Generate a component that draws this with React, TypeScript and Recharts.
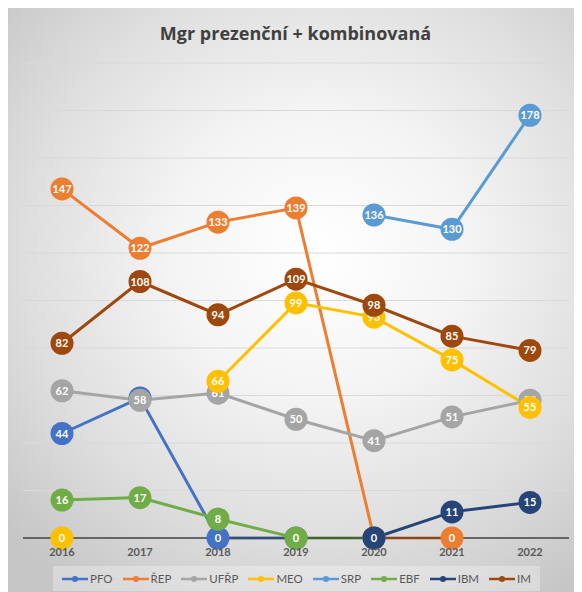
import React from 'react';
import { LineChart, Line, XAxis, YAxis, CartesianGrid } from 'recharts';

const years = ['2016', '2017', '2018', '2019', '2020', '2021', '2022'];
const pfo = [44, 59, 0, 0, null, null, null];
const rep = [147, 122, 133, 139, 0, 0, null];
const ufrp = [62, 58, 61, 50, 41, 51, 58];
const meo = [0, null, 66, 99, 93, 75, 55];
const srp = [null, null, null, null, 136, 130, 178];
const ebf = [16, 17, 8, 0, 0, null, null];
const ibm = [null, null, null, null, 0, 11, 15];
const im = [82, 108, 94, 109, 98, 85, 79];
const yTicks = [0, 20, 40, 60, 80, 100, 120, 140, 160, 180, 200];

const series = [
    { key: 'PFO', values: pfo, color: '#4472C4' },
    { key: 'ŘEP', values: rep, color: '#ED7D31' },
    { key: 'UFŘP', values: ufrp, color: '#A5A5A5' },
    { key: 'MEO', values: meo, color: '#FFC000' },
    { key: 'SRP', values: srp, color: '#5B9BD5' },
    { key: 'EBF', values: ebf, color: '#70AD47' },
    { key: 'IBM', values: ibm, color: '#264478' },
    { key: 'IM', values: im, color: '#9E480E' },
];

const data = years.map((year, i) => {
    const row: any = { year };
    series.forEach((s) => {
        row[s.key] = s.values[i];
    });
    return row;
});

const font = 'Lato, "Open Sans", sans-serif';

const makeDot = (color: string) => (props: any) => {
    const { cx, cy, value, index } = props;
    if (value === null || value === undefined || cy === null || cy === undefined || isNaN(cy)) {
        return <g key={`d-${index}`} />;
    }
    return (
        <g key={`d-${index}`}>
            <circle cx={cx} cy={cy} r={11.5} fill={color} />
            <text
                x={cx}
                y={cy}
                dy={4}
                textAnchor="middle"
                fill="#ffffff"
                fontSize={11}
                fontWeight={700}
                fontFamily={font}
            >
                {value}
            </text>
        </g>
    );
};

const ChartLegend = () => (
    <div
        style={{
            position: 'absolute',
            left: 45,
            top: 558,
            width: 487,
            height: 25,
            display: 'flex',
            alignItems: 'center',
            justifyContent: 'center',
            gap: 10,
            background: 'rgba(255,255,255,0.3)',
            fontFamily: font,
            fontSize: 11.5,
            color: '#595959',
        }}
    >
        {series.map((s) => (
            <div key={s.key} style={{ display: 'flex', alignItems: 'center' }}>
                <svg width={26} height={8} style={{ marginRight: 2 }}>
                    <line x1={0} y1={4} x2={26} y2={4} stroke={s.color} strokeWidth={2.5} />
                    <circle cx={13} cy={4} r={3} fill={s.color} />
                </svg>
                <span>{s.key}</span>
            </div>
        ))}
    </div>
);

export default function App() {
    return (
        <div
            style={{
                position: 'relative',
                width: 567,
                height: 584,
                background:
                    'radial-gradient(ellipse 75% 70% at 55% 42%, #ffffff 0%, #f4f4f4 35%, #dedede 70%, #c6c6c6 100%)',
            }}
        >
            <div
                style={{
                    position: 'absolute',
                    top: 13,
                    left: 4,
                    width: '100%',
                    textAlign: 'center',
                    fontFamily: '"Open Sans", sans-serif',
                    fontWeight: 700,
                    fontSize: 18,
                    color: '#404040',
                }}
            >
                Mgr prezenční + kombinovaná
            </div>
            <LineChart
                width={567}
                height={584}
                data={data}
                margin={{ top: 55, right: 6, left: 15, bottom: 34 }}
                style={{ position: 'absolute', top: 0, left: 0 }}
            >
                <CartesianGrid horizontal vertical={false} stroke="#d9d9d9" />
                <XAxis
                    dataKey="year"
                    height={20}
                    padding={{ left: 39, right: 39 }}
                    tickLine={false}
                    axisLine={{ stroke: '#404040', strokeWidth: 1.5 }}
                    tick={{ fill: '#595959', fontSize: 11, fontFamily: font, fontWeight: 700 }}
                    dy={2}
                    interval={0}
                />
                <YAxis hide domain={[0, 200]} ticks={yTicks} width={0} />
                {series.map((s) => (
                    <Line
                        key={s.key}
                        type="linear"
                        dataKey={s.key}
                        stroke={s.color}
                        strokeWidth={3}
                        dot={makeDot(s.color)}
                        activeDot={false}
                        isAnimationActive={false}
                    />
                ))}
            </LineChart>
            <ChartLegend />
        </div>
    );
}
